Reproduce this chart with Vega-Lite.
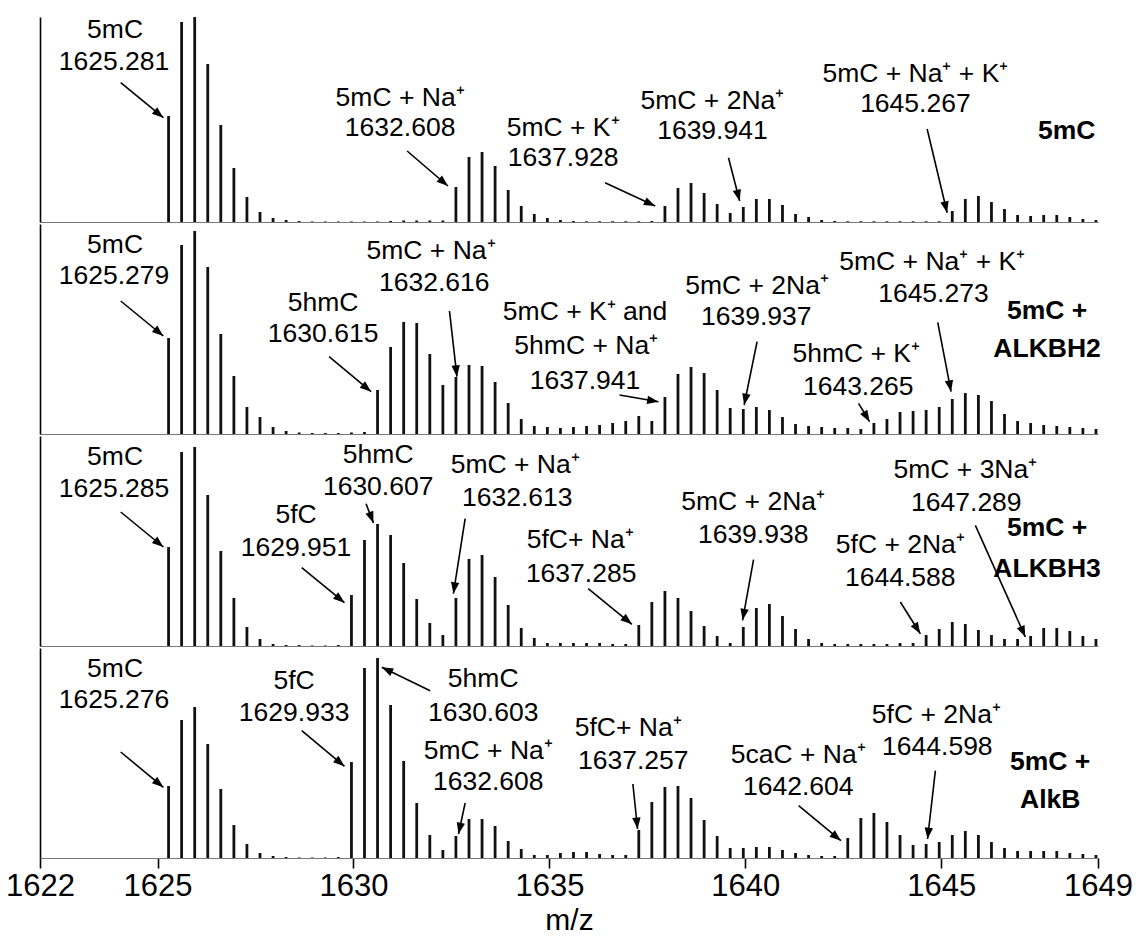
{
"$schema":"https://vega.github.io/schema/vega-lite/v6.json",
"autosize":{"type":"pad"},
"padding":{"left":5,"top":15,"right":0,"bottom":0},
"background":"white",
"config":{"view":{"stroke":null},"font":"Liberation Sans"},
"spacing":0,
"datasets":{
"peaks":[
{"mz":1625.281,"p1":106,"p2":96,"p3":99,"p4":72},
{"mz":1625.614,"p1":200,"p2":189,"p3":194,"p4":138},
{"mz":1625.948,"p1":205,"p2":203,"p3":199,"p4":151},
{"mz":1626.281,"p1":158,"p2":167,"p3":151,"p4":114},
{"mz":1626.614,"p1":97,"p2":100,"p3":95,"p4":69},
{"mz":1626.948,"p1":54,"p2":58,"p3":48,"p4":33},
{"mz":1627.281,"p1":25,"p2":27,"p3":19,"p4":14},
{"mz":1627.614,"p1":10,"p2":17,"p3":7,"p4":5},
{"mz":1627.948,"p1":4,"p2":7,"p3":2,"p4":2},
{"mz":1628.281,"p1":2,"p2":3,"p3":1,"p4":1},
{"mz":1628.614,"p1":1,"p2":1.5,"p3":1,"p4":0.5},
{"mz":1628.948,"p1":0.5,"p2":1,"p3":0.5,"p4":0.5},
{"mz":1629.281,"p1":0.5,"p2":1,"p3":0.5,"p4":0.5},
{"mz":1629.614,"p1":0.5,"p2":1,"p3":1,"p4":1},
{"mz":1629.948,"p1":0.5,"p2":1.5,"p3":51,"p4":96},
{"mz":1630.281,"p1":0.5,"p2":2,"p3":106,"p4":190},
{"mz":1630.614,"p1":0.5,"p2":44,"p3":122,"p4":200},
{"mz":1630.948,"p1":1,"p2":87,"p3":111,"p4":153},
{"mz":1631.281,"p1":1.5,"p2":112,"p3":83,"p4":97},
{"mz":1631.614,"p1":1.5,"p2":111,"p3":47,"p4":55},
{"mz":1631.948,"p1":1.5,"p2":80,"p3":23,"p4":23},
{"mz":1632.281,"p1":1.5,"p2":49,"p3":11,"p4":8},
{"mz":1632.614,"p1":35,"p2":57,"p3":48,"p4":22},
{"mz":1632.948,"p1":65,"p2":69,"p3":87,"p4":39},
{"mz":1633.281,"p1":70,"p2":68,"p3":91,"p4":39},
{"mz":1633.614,"p1":56,"p2":52,"p3":69,"p4":32},
{"mz":1633.948,"p1":32,"p2":31,"p3":41,"p4":17},
{"mz":1634.281,"p1":16,"p2":15,"p3":18,"p4":9},
{"mz":1634.614,"p1":8,"p2":8,"p3":8,"p4":3},
{"mz":1634.948,"p1":4,"p2":7,"p3":3,"p4":3},
{"mz":1635.281,"p1":2,"p2":6,"p3":3,"p4":5},
{"mz":1635.614,"p1":1,"p2":7,"p3":3,"p4":6},
{"mz":1635.948,"p1":0.7,"p2":8,"p3":3,"p4":6},
{"mz":1636.281,"p1":0.7,"p2":9,"p3":3,"p4":4},
{"mz":1636.614,"p1":0.7,"p2":11,"p3":2,"p4":3},
{"mz":1636.948,"p1":0.7,"p2":13,"p3":2,"p4":3},
{"mz":1637.281,"p1":0.7,"p2":18,"p3":21,"p4":28},
{"mz":1637.614,"p1":1,"p2":13,"p3":44,"p4":56},
{"mz":1637.948,"p1":16,"p2":37,"p3":55,"p4":71},
{"mz":1638.281,"p1":34,"p2":60,"p3":48,"p4":72},
{"mz":1638.614,"p1":39,"p2":67,"p3":35,"p4":60},
{"mz":1638.948,"p1":29,"p2":61,"p3":20,"p4":38},
{"mz":1639.281,"p1":18,"p2":44,"p3":10,"p4":22},
{"mz":1639.614,"p1":9,"p2":26,"p3":3,"p4":10},
{"mz":1639.948,"p1":15,"p2":25,"p3":19,"p4":10},
{"mz":1640.281,"p1":23,"p2":27,"p3":38,"p4":11},
{"mz":1640.614,"p1":23,"p2":24,"p3":42,"p4":11},
{"mz":1640.948,"p1":17,"p2":17,"p3":30,"p4":8},
{"mz":1641.281,"p1":8,"p2":10,"p3":17,"p4":5},
{"mz":1641.614,"p1":5,"p2":8,"p3":7,"p4":3},
{"mz":1641.948,"p1":2,"p2":7,"p3":3,"p4":2},
{"mz":1642.281,"p1":1,"p2":6,"p3":2,"p4":2},
{"mz":1642.614,"p1":0.7,"p2":6,"p3":2,"p4":20},
{"mz":1642.948,"p1":0.7,"p2":5,"p3":2,"p4":40},
{"mz":1643.281,"p1":0.7,"p2":11,"p3":2,"p4":45},
{"mz":1643.614,"p1":0.7,"p2":15,"p3":2,"p4":36},
{"mz":1643.948,"p1":0.7,"p2":22,"p3":3,"p4":23},
{"mz":1644.281,"p1":0.7,"p2":23,"p3":3,"p4":13},
{"mz":1644.614,"p1":0.7,"p2":24,"p3":11,"p4":14},
{"mz":1644.948,"p1":0.7,"p2":27,"p3":17,"p4":16},
{"mz":1645.281,"p1":11,"p2":35,"p3":24,"p4":23},
{"mz":1645.614,"p1":23,"p2":41,"p3":22,"p4":27},
{"mz":1645.948,"p1":26,"p2":39,"p3":16,"p4":23},
{"mz":1646.281,"p1":20,"p2":33,"p3":11,"p4":16},
{"mz":1646.614,"p1":13,"p2":20,"p3":7,"p4":10},
{"mz":1646.948,"p1":7,"p2":13,"p3":7,"p4":7},
{"mz":1647.281,"p1":6,"p2":11,"p3":10,"p4":7},
{"mz":1647.614,"p1":7,"p2":9,"p3":18,"p4":7},
{"mz":1647.948,"p1":7,"p2":8,"p3":18,"p4":7},
{"mz":1648.281,"p1":5,"p2":7,"p3":15,"p4":5},
{"mz":1648.614,"p1":3,"p2":6,"p3":10,"p4":4},
{"mz":1648.948,"p1":2,"p2":5,"p3":7,"p4":3}
],
"labels":[
{"panel":1,"mz":1623.915,"y":192,"text":"5mC"},
{"panel":1,"mz":1623.89,"y":160,"text":"1625.281"},
{"panel":1,"mz":1631.19,"y":124,"text":"5mC + Na⁺"},
{"panel":1,"mz":1631.19,"y":94,"text":"1632.608"},
{"panel":1,"mz":1635.35,"y":94,"text":"5mC + K⁺"},
{"panel":1,"mz":1635.35,"y":64,"text":"1637.928"},
{"panel":1,"mz":1639.16,"y":121,"text":"5mC + 2Na⁺"},
{"panel":1,"mz":1639.16,"y":91,"text":"1639.941"},
{"panel":1,"mz":1644.34,"y":148,"text":"5mC + Na⁺ + K⁺"},
{"panel":1,"mz":1644.34,"y":118,"text":"1645.267"},
{"panel":2,"mz":1623.915,"y":189,"text":"5mC"},
{"panel":2,"mz":1623.89,"y":158,"text":"1625.279"},
{"panel":2,"mz":1629.225,"y":131,"text":"5hmC"},
{"panel":2,"mz":1629.225,"y":100,"text":"1630.615"},
{"panel":2,"mz":1631.98,"y":183,"text":"5mC + Na⁺"},
{"panel":2,"mz":1632.06,"y":151,"text":"1632.616"},
{"panel":2,"mz":1635.91,"y":122,"text":"5mC + K⁺ and"},
{"panel":2,"mz":1635.94,"y":88,"text":"5hmC + Na⁺"},
{"panel":2,"mz":1635.91,"y":53,"text":"1637.941"},
{"panel":2,"mz":1640.3,"y":148,"text":"5mC + 2Na⁺"},
{"panel":2,"mz":1640.28,"y":117,"text":"1639.937"},
{"panel":2,"mz":1644.77,"y":172,"text":"5mC + Na⁺ + K⁺"},
{"panel":2,"mz":1644.8,"y":140,"text":"1645.273"},
{"panel":2,"mz":1642.83,"y":80,"text":"5hmC + K⁺"},
{"panel":2,"mz":1642.88,"y":47,"text":"1643.265"},
{"panel":3,"mz":1623.915,"y":189,"text":"5mC"},
{"panel":3,"mz":1623.89,"y":157,"text":"1625.285"},
{"panel":3,"mz":1628.535,"y":131,"text":"5fC"},
{"panel":3,"mz":1628.535,"y":98,"text":"1629.951"},
{"panel":3,"mz":1630.63,"y":191,"text":"5hmC"},
{"panel":3,"mz":1630.63,"y":159,"text":"1630.607"},
{"panel":3,"mz":1634.127,"y":181,"text":"5mC + Na⁺"},
{"panel":3,"mz":1634.18,"y":148,"text":"1632.613"},
{"panel":3,"mz":1635.786,"y":106,"text":"5fC+ Na⁺"},
{"panel":3,"mz":1635.81,"y":72,"text":"1637.285"},
{"panel":3,"mz":1640.2,"y":144,"text":"5mC + 2Na⁺"},
{"panel":3,"mz":1640.2,"y":111,"text":"1639.938"},
{"panel":3,"mz":1643.955,"y":101,"text":"5fC + 2Na⁺"},
{"panel":3,"mz":1643.955,"y":68,"text":"1644.588"},
{"panel":3,"mz":1645.615,"y":176,"text":"5mC + 3Na⁺"},
{"panel":3,"mz":1645.64,"y":143,"text":"1647.289"},
{"panel":4,"mz":1623.915,"y":189,"text":"5mC"},
{"panel":4,"mz":1623.89,"y":158,"text":"1625.276"},
{"panel":4,"mz":1628.485,"y":177,"text":"5fC"},
{"panel":4,"mz":1628.485,"y":145,"text":"1629.933"},
{"panel":4,"mz":1633.31,"y":179,"text":"5hmC"},
{"panel":4,"mz":1633.31,"y":145,"text":"1630.603"},
{"panel":4,"mz":1633.44,"y":107,"text":"5mC + Na⁺"},
{"panel":4,"mz":1633.44,"y":76,"text":"1632.608"},
{"panel":4,"mz":1637.01,"y":130,"text":"5fC+ Na⁺"},
{"panel":4,"mz":1637.14,"y":97,"text":"1637.257"},
{"panel":4,"mz":1641.35,"y":103,"text":"5caC + Na⁺"},
{"panel":4,"mz":1641.35,"y":71,"text":"1642.604"},
{"panel":4,"mz":1644.875,"y":143,"text":"5fC + 2Na⁺"},
{"panel":4,"mz":1644.9,"y":111,"text":"1644.598"}
],
"titles":[
{"panel":1,"mz":1648.2,"y":91,"text":"5mC"},
{"panel":2,"mz":1647.7,"y":123,"text":"5mC +"},
{"panel":2,"mz":1647.7,"y":85,"text":"ALKBH2"},
{"panel":3,"mz":1647.7,"y":118,"text":"5mC +"},
{"panel":3,"mz":1647.7,"y":77,"text":"ALKBH3"},
{"panel":4,"mz":1647.78,"y":96,"text":"5mC +"},
{"panel":4,"mz":1647.78,"y":58,"text":"AlkB"}
],
"arrows":[
{"panel":1,"mz_from":1624.06,"i_from":139.3,"mz_to":1625.148,"i_to":104.3},
{"panel":1,"mz_from":1631.37,"i_from":71,"mz_to":1632.41,"i_to":36},
{"panel":1,"mz_from":1636.42,"i_from":39.3,"mz_to":1637.7,"i_to":16},
{"panel":1,"mz_from":1639.57,"i_from":64.3,"mz_to":1639.855,"i_to":21},
{"panel":1,"mz_from":1644.64,"i_from":93,"mz_to":1645.15,"i_to":9.3},
{"panel":2,"mz_from":1624.06,"i_from":133,"mz_to":1625.148,"i_to":98},
{"panel":2,"mz_from":1629.378,"i_from":77.3,"mz_to":1630.45,"i_to":42.3},
{"panel":2,"mz_from":1632.45,"i_from":123,"mz_to":1632.64,"i_to":57.3},
{"panel":2,"mz_from":1636.79,"i_from":39,"mz_to":1637.785,"i_to":32.3},
{"panel":2,"mz_from":1640.3,"i_from":92.3,"mz_to":1639.97,"i_to":29},
{"panel":2,"mz_from":1644.91,"i_from":111.7,"mz_to":1645.25,"i_to":42.3},
{"panel":2,"mz_from":1642.89,"i_from":30.7,"mz_to":1643.17,"i_to":12.3},
{"panel":3,"mz_from":1624.06,"i_from":134,"mz_to":1625.148,"i_to":99},
{"panel":3,"mz_from":1628.68,"i_from":78.3,"mz_to":1629.77,"i_to":43.3},
{"panel":3,"mz_from":1630.32,"i_from":142.3,"mz_to":1630.51,"i_to":123},
{"panel":3,"mz_from":1632.85,"i_from":127.3,"mz_to":1632.55,"i_to":52.3},
{"panel":3,"mz_from":1635.99,"i_from":57.3,"mz_to":1637.106,"i_to":21.7},
{"panel":3,"mz_from":1640.21,"i_from":86.3,"mz_to":1639.93,"i_to":25.7},
{"panel":3,"mz_from":1643.955,"i_from":44,"mz_to":1644.466,"i_to":12.3},
{"panel":3,"mz_from":1645.87,"i_from":120.7,"mz_to":1647.146,"i_to":9},
{"panel":4,"mz_from":1624.06,"i_from":106,"mz_to":1625.148,"i_to":70.7},
{"panel":4,"mz_from":1628.68,"i_from":127.3,"mz_to":1629.77,"i_to":91.7},
{"panel":4,"mz_from":1631.957,"i_from":167.3,"mz_to":1630.723,"i_to":190.7},
{"panel":4,"mz_from":1632.85,"i_from":55,"mz_to":1632.68,"i_to":24},
{"panel":4,"mz_from":1637.13,"i_from":74,"mz_to":1637.25,"i_to":29},
{"panel":4,"mz_from":1641.36,"i_from":52.3,"mz_to":1642.44,"i_to":17.3},
{"panel":4,"mz_from":1644.85,"i_from":87.3,"mz_to":1644.65,"i_to":19}
]
},
"vconcat":[
{"width":1058,"height":205,
"layer":[
{"data":{"name":"peaks"},"mark":{"type":"rule","strokeWidth":2.8,"color":"#111"},
"encoding":{"x":{"field":"mz","type":"quantitative","title":null,"scale":{"domain":[1622,1649],"nice":false,"zero":false},"axis":{"title":null,"labels":false,"ticks":false,"grid":false,"domainColor":"#777","domainWidth":1}},
"y":{"field":"p1","type":"quantitative","title":null,"scale":{"domain":[0,205],"nice":false},"axis":{"title":null,"labels":false,"ticks":false,"grid":false,"domainColor":"#000","domainWidth":1.6}},
"y2":{"datum":0}}},
{"data":{"name":"arrows"},"transform":[{"filter":"datum.panel==1"}],"mark":{"type":"rule","strokeWidth":1.6,"color":"#000"},
"encoding":{"x":{"field":"mz_from","type":"quantitative","title":null},"y":{"field":"i_from","type":"quantitative","title":null},"x2":{"field":"mz_to"},"y2":{"field":"i_to"}}},
{"data":{"name":"arrows"},"transform":[{"filter":"datum.panel==1"},{"calculate":"atan2((datum.mz_to-datum.mz_from)*39.17, datum.i_to-datum.i_from)*180/PI","as":"ang"}],"mark":{"type":"point","shape":"M0,0L0.7,1.9L-0.7,1.9Z","filled":true,"color":"#000","opacity":1,"size":144,"strokeWidth":0},
"encoding":{"x":{"field":"mz_to","type":"quantitative","title":null},"y":{"field":"i_to","type":"quantitative","title":null},"angle":{"field":"ang","type":"quantitative","scale":null}}},
{"data":{"name":"labels"},"transform":[{"filter":"datum.panel==1"}],"mark":{"type":"text","fontSize":26.5,"font":"Liberation Sans","align":"center","baseline":"middle","color":"#000"},
"encoding":{"x":{"field":"mz","type":"quantitative","title":null},"y":{"field":"y","type":"quantitative","title":null},"text":{"field":"text"}}},
{"data":{"name":"titles"},"transform":[{"filter":"datum.panel==1"}],"mark":{"type":"text","fontSize":26.5,"font":"Liberation Sans","fontWeight":"bold","align":"center","baseline":"middle","color":"#000"},
"encoding":{"x":{"field":"mz","type":"quantitative","title":null},"y":{"field":"y","type":"quantitative","title":null},"text":{"field":"text"}}}
]},
{"width":1058,"height":210,
"layer":[
{"data":{"name":"peaks"},"mark":{"type":"rule","strokeWidth":2.8,"color":"#111"},
"encoding":{"x":{"field":"mz","type":"quantitative","title":null,"scale":{"domain":[1622,1649],"nice":false,"zero":false},"axis":{"title":null,"labels":false,"ticks":false,"grid":false,"domainColor":"#777","domainWidth":1}},
"y":{"field":"p2","type":"quantitative","title":null,"scale":{"domain":[0,210],"nice":false},"axis":{"title":null,"labels":false,"ticks":false,"grid":false,"domainColor":"#000","domainWidth":1.6}},
"y2":{"datum":0}}},
{"data":{"name":"arrows"},"transform":[{"filter":"datum.panel==2"}],"mark":{"type":"rule","strokeWidth":1.6,"color":"#000"},
"encoding":{"x":{"field":"mz_from","type":"quantitative","title":null},"y":{"field":"i_from","type":"quantitative","title":null},"x2":{"field":"mz_to"},"y2":{"field":"i_to"}}},
{"data":{"name":"arrows"},"transform":[{"filter":"datum.panel==2"},{"calculate":"atan2((datum.mz_to-datum.mz_from)*39.17, datum.i_to-datum.i_from)*180/PI","as":"ang"}],"mark":{"type":"point","shape":"M0,0L0.7,1.9L-0.7,1.9Z","filled":true,"color":"#000","opacity":1,"size":144,"strokeWidth":0},
"encoding":{"x":{"field":"mz_to","type":"quantitative","title":null},"y":{"field":"i_to","type":"quantitative","title":null},"angle":{"field":"ang","type":"quantitative","scale":null}}},
{"data":{"name":"labels"},"transform":[{"filter":"datum.panel==2"}],"mark":{"type":"text","fontSize":26.5,"font":"Liberation Sans","align":"center","baseline":"middle","color":"#000"},
"encoding":{"x":{"field":"mz","type":"quantitative","title":null},"y":{"field":"y","type":"quantitative","title":null},"text":{"field":"text"}}},
{"data":{"name":"titles"},"transform":[{"filter":"datum.panel==2"}],"mark":{"type":"text","fontSize":26.5,"font":"Liberation Sans","fontWeight":"bold","align":"center","baseline":"middle","color":"#000"},
"encoding":{"x":{"field":"mz","type":"quantitative","title":null},"y":{"field":"y","type":"quantitative","title":null},"text":{"field":"text"}}}
]},
{"width":1058,"height":210,
"layer":[
{"data":{"name":"peaks"},"mark":{"type":"rule","strokeWidth":2.8,"color":"#111"},
"encoding":{"x":{"field":"mz","type":"quantitative","title":null,"scale":{"domain":[1622,1649],"nice":false,"zero":false},"axis":{"title":null,"labels":false,"ticks":false,"grid":false,"domainColor":"#777","domainWidth":1}},
"y":{"field":"p3","type":"quantitative","title":null,"scale":{"domain":[0,210],"nice":false},"axis":{"title":null,"labels":false,"ticks":false,"grid":false,"domainColor":"#000","domainWidth":1.6}},
"y2":{"datum":0}}},
{"data":{"name":"arrows"},"transform":[{"filter":"datum.panel==3"}],"mark":{"type":"rule","strokeWidth":1.6,"color":"#000"},
"encoding":{"x":{"field":"mz_from","type":"quantitative","title":null},"y":{"field":"i_from","type":"quantitative","title":null},"x2":{"field":"mz_to"},"y2":{"field":"i_to"}}},
{"data":{"name":"arrows"},"transform":[{"filter":"datum.panel==3"},{"calculate":"atan2((datum.mz_to-datum.mz_from)*39.17, datum.i_to-datum.i_from)*180/PI","as":"ang"}],"mark":{"type":"point","shape":"M0,0L0.7,1.9L-0.7,1.9Z","filled":true,"color":"#000","opacity":1,"size":144,"strokeWidth":0},
"encoding":{"x":{"field":"mz_to","type":"quantitative","title":null},"y":{"field":"i_to","type":"quantitative","title":null},"angle":{"field":"ang","type":"quantitative","scale":null}}},
{"data":{"name":"labels"},"transform":[{"filter":"datum.panel==3"}],"mark":{"type":"text","fontSize":26.5,"font":"Liberation Sans","align":"center","baseline":"middle","color":"#000"},
"encoding":{"x":{"field":"mz","type":"quantitative","title":null},"y":{"field":"y","type":"quantitative","title":null},"text":{"field":"text"}}},
{"data":{"name":"titles"},"transform":[{"filter":"datum.panel==3"}],"mark":{"type":"text","fontSize":26.5,"font":"Liberation Sans","fontWeight":"bold","align":"center","baseline":"middle","color":"#000"},
"encoding":{"x":{"field":"mz","type":"quantitative","title":null},"y":{"field":"y","type":"quantitative","title":null},"text":{"field":"text"}}}
]},
{"width":1058,"height":210,
"layer":[
{"data":{"name":"peaks"},"mark":{"type":"rule","strokeWidth":2.8,"color":"#111"},
"encoding":{"x":{"field":"mz","type":"quantitative","title":"m/z","scale":{"domain":[1622,1649],"nice":false,"zero":false},"axis":{"title":"m/z","values":[1622,1625,1630,1635,1640,1645,1649],"format":"d","grid":false,"domainColor":"#777","domainWidth":1,"tickColor":"#000","tickSize":10,"tickWidth":1.6,"labelFontSize":31,"labelFont":"Liberation Sans","labelColor":"#000","labelPadding":3,"labelFlush":false,"labelOverlap":false,"labelBound":false,"titleFontSize":30,"titleFont":"Liberation Sans","titleFontWeight":"normal","titleColor":"#000","titlePadding":4}},
"y":{"field":"p4","type":"quantitative","title":null,"scale":{"domain":[0,210],"nice":false},"axis":{"title":null,"labels":false,"ticks":false,"grid":false,"domainColor":"#000","domainWidth":1.6}},
"y2":{"datum":0}}},
{"data":{"name":"arrows"},"transform":[{"filter":"datum.panel==4"}],"mark":{"type":"rule","strokeWidth":1.6,"color":"#000"},
"encoding":{"x":{"field":"mz_from","type":"quantitative","title":"m/z"},"y":{"field":"i_from","type":"quantitative","title":null},"x2":{"field":"mz_to"},"y2":{"field":"i_to"}}},
{"data":{"name":"arrows"},"transform":[{"filter":"datum.panel==4"},{"calculate":"atan2((datum.mz_to-datum.mz_from)*39.17, datum.i_to-datum.i_from)*180/PI","as":"ang"}],"mark":{"type":"point","shape":"M0,0L0.7,1.9L-0.7,1.9Z","filled":true,"color":"#000","opacity":1,"size":144,"strokeWidth":0},
"encoding":{"x":{"field":"mz_to","type":"quantitative","title":"m/z"},"y":{"field":"i_to","type":"quantitative","title":null},"angle":{"field":"ang","type":"quantitative","scale":null}}},
{"data":{"name":"labels"},"transform":[{"filter":"datum.panel==4"}],"mark":{"type":"text","fontSize":26.5,"font":"Liberation Sans","align":"center","baseline":"middle","color":"#000"},
"encoding":{"x":{"field":"mz","type":"quantitative","title":"m/z"},"y":{"field":"y","type":"quantitative","title":null},"text":{"field":"text"}}},
{"data":{"name":"titles"},"transform":[{"filter":"datum.panel==4"}],"mark":{"type":"text","fontSize":26.5,"font":"Liberation Sans","fontWeight":"bold","align":"center","baseline":"middle","color":"#000"},
"encoding":{"x":{"field":"mz","type":"quantitative","title":"m/z"},"y":{"field":"y","type":"quantitative","title":null},"text":{"field":"text"}}}
]}
]
}
